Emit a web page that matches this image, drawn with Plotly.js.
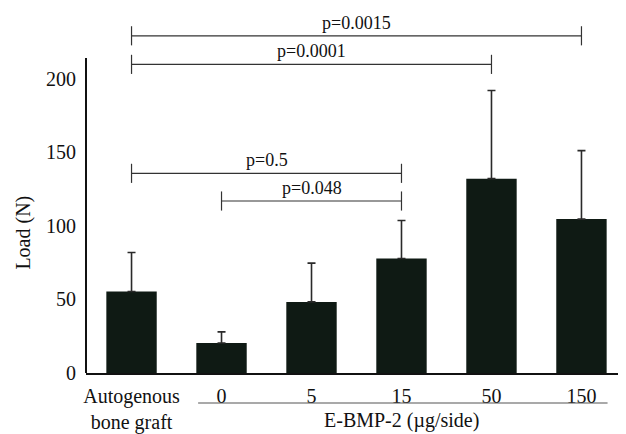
<!DOCTYPE html>
<html>
<head>
<meta charset="utf-8">
<script src="https://cdn.plot.ly/plotly-3.0.1.min.js"></script>
<style>html,body{margin:0;padding:0;background:#fff;}#chart{width:626px;height:434px;}</style>
</head>
<body>
<div id="chart"></div>
<script>
// ---- data ----
const categories = ['Autogenous<br>bone graft', '0', '5', '15', '50', '150'];
const loadMeans = [55.3, 20.4, 48.3, 77.8, 132.0, 104.5];
const loadSD = [26.5, 7.5, 26.3, 25.8, 59.8, 46.5];
const yTickValues = [0, 50, 100, 150, 200];
const bracketFrom = [0, 0, 0, 1];
const bracketTo = [5, 4, 3, 3];
const bracketLevel = [229, 209.6, 135.6, 116.8];
const bracketLabels = ['p=0.0015', 'p=0.0001', 'p=0.5', 'p=0.048'];
const groupFirst = 1, groupLast = 5;
const groupLabel = 'E-BMP-2 (µg/side)';
const yTitle = 'Load (N)';
const yAxisTop = 214;

// ---- style ----
const FONT = '"Liberation Serif", "DejaVu Serif", serif';
const BAR = '#0f1a14';
const plotTop = 10, plotBottom = 61;
const plotH = 434 - plotTop - plotBottom;
const yMax = plotH / 1.4725;
const tick = 6.5;

const trace = {
  type: 'bar',
  x: categories,
  y: loadMeans,
  width: 0.56,
  marker: {color: BAR, line: {width: 0}},
  error_y: {type: 'data', symmetric: false, array: loadSD, arrayminus: loadSD.map(() => 0),
            color: '#2a2a2a', thickness: 1.6, width: 4},
  hoverinfo: 'none'
};

const shapes = [];
const annotations = [];
for (let i = 0; i < bracketLabels.length; i++) {
  const a = bracketFrom[i], b = bracketTo[i], y = bracketLevel[i];
  const ln = {color: '#333', width: 1.2};
  shapes.push({type: 'line', xref: 'x', yref: 'y', x0: a, x1: b, y0: y, y1: y, line: ln});
  shapes.push({type: 'line', xref: 'x', yref: 'y', x0: a, x1: a, y0: y - tick, y1: y + tick, line: ln});
  shapes.push({type: 'line', xref: 'x', yref: 'y', x0: b, x1: b, y0: y - tick, y1: y + tick, line: ln});
  annotations.push({xref: 'x', yref: 'y', x: (a + b) / 2, y: y, text: bracketLabels[i],
    showarrow: false, yanchor: 'bottom', yshift: 1, font: {family: FONT, size: 18, color: '#111'}});
}
// y axis line (stops below the brackets)
shapes.push({type: 'line', xref: 'paper', yref: 'y', x0: 0, x1: 0, y0: 0, y1: yAxisTop,
  line: {color: '#111', width: 2}});
// underline for the E-BMP-2 dose group
shapes.push({type: 'line', xref: 'x', yref: 'paper', x0: groupFirst - 0.26, x1: groupLast + 0.29,
  y0: -30 / plotH, y1: -30 / plotH, line: {color: '#555', width: 1.2}});
annotations.push({xref: 'x', yref: 'paper', x: (groupFirst + groupLast) / 2, y: -47 / plotH,
  text: groupLabel, showarrow: false, yanchor: 'middle', font: {family: FONT, size: 20, color: '#111'}});
annotations.push({xref: 'paper', yref: 'y', x: -62.5 / 532, y: 95, text: yTitle, textangle: -90,
  showarrow: false, xanchor: 'center', yanchor: 'middle', font: {family: FONT, size: 20, color: '#111'}});

const layout = {
  width: 626, height: 434,
  margin: {l: 86, r: 8, t: plotTop, b: plotBottom, pad: 0},
  paper_bgcolor: '#fff', plot_bgcolor: '#fff',
  showlegend: false,
  font: {family: FONT, size: 20, color: '#111'},
  xaxis: {type: 'category', range: [-0.506, 5.406], showline: true, linecolor: '#111', linewidth: 2,
    ticks: '', showgrid: false, zeroline: false, tickfont: {family: FONT, size: 20, color: '#111'},
    ticklabelstandoff: 4},
  yaxis: {range: [0, yMax], showline: false, ticks: '', showgrid: false, zeroline: false,
    tickvals: yTickValues, ticktext: yTickValues.map(String),
    tickfont: {family: FONT, size: 20, color: '#111'}, ticklabelstandoff: 9},
  shapes: shapes,
  annotations: annotations
};

Plotly.newPlot('chart', [trace], layout, {displayModeBar: false, staticPlot: true});
</script>
</body>
</html>
